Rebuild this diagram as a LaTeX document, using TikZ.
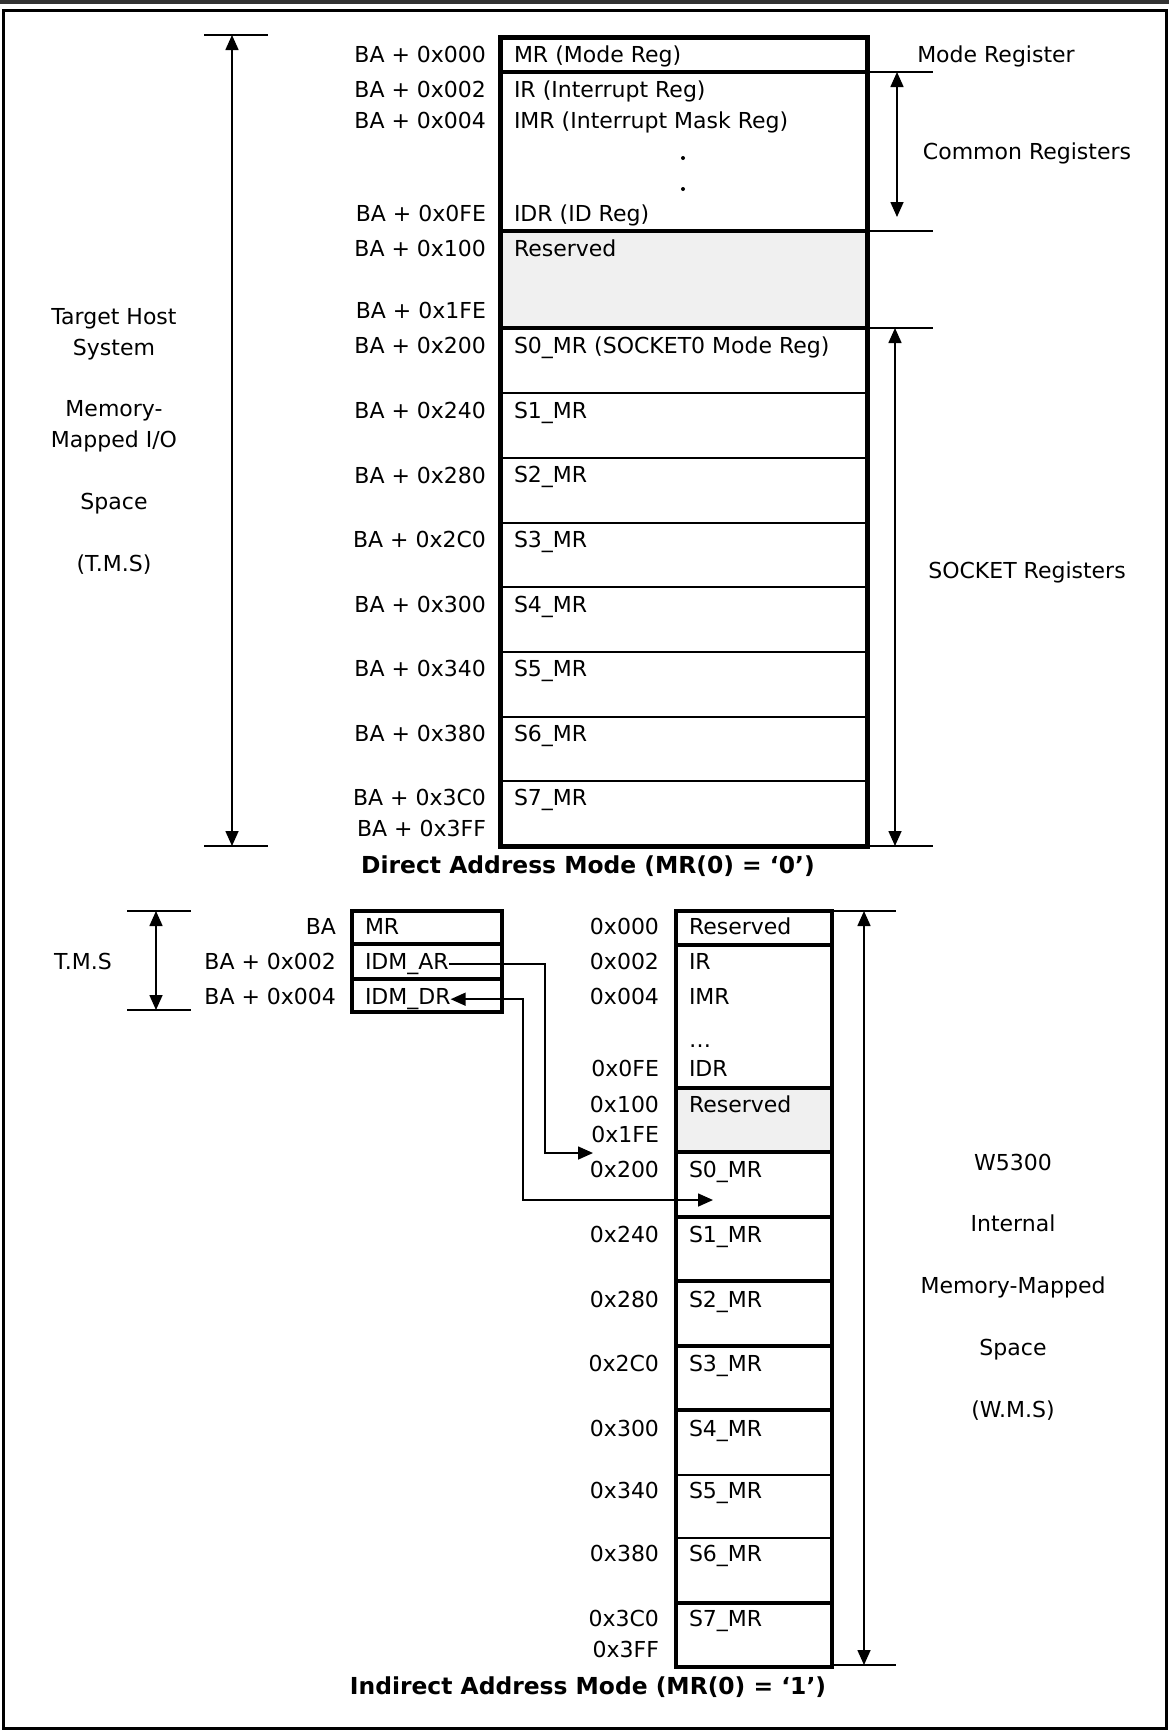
\documentclass[tikz,border=0pt]{standalone}
\usepackage{fontspec}
\setmainfont{DejaVu Sans}
\usepackage{tikz}
\usetikzlibrary{arrows.meta}

\tikzset{
  lbl/.style={inner sep=0pt, outer sep=0pt, yshift=-1.6pt},
  addr/.style={lbl, anchor=mid east},
  reg/.style={lbl, anchor=mid west},
  note/.style={lbl, anchor=mid},
  guide/.style={line width=0.8pt},
  dimline/.style={line width=0.8pt, <->},
  conn/.style={line width=0.8pt},
  resfill/.style={fill=black!6},
  titlefont/.style={font=\fontsize{11.7}{14}\selectfont\bfseries},
}

\begin{document}
\begin{tikzpicture}[x=0.5pt, y=-0.5pt, font=\fontsize{11}{13}\selectfont,
    >={Triangle[length=7.5pt,width=6.5pt]}]
  % 1 unit = 1 px of the sheet, y runs downwards
  \useasboundingbox (0,0) rectangle (1169,1731);
  \draw[black!80, line width=1.75pt] (0,1.75) -- (1169,1.75);
  \draw[line width=1.5pt] (3,10) rectangle (1166,1728);

  % ---------- Direct Address Mode ----------
  \fill[resfill] (500,231) rectangle (867,328);               % reserved block
  \draw[line width=2pt] (500,72) -- (867,72) (500,231) -- (867,231) (500,328) -- (867,328);
  \foreach \y in {393,458,523,587,652,717,781}
    \draw[line width=1.4pt] (500,\y) -- (867,\y);             % socket rows
  \draw[line width=2.5pt] (500,37) rectangle (867,846);

  \foreach \y/\a [count=\i] in {54/0x000,89/0x002,120/0x004,213/0x0FE,248/0x100,310/0x1FE,
      345/0x200,410/0x240,475/0x280,539/0x2C0,604/0x300,668/0x340,733/0x380,797/0x3C0,828/0x3FF}
    \node[addr] (da\i) at (486,\y) {BA + \a};

  \node[reg] (dmr)  at (514,54)  {MR (Mode Reg)};
  \node[reg] (dir)  at (514,89)  {IR (Interrupt Reg)};
  \node[reg] (dimr) at (514,120) {IMR (Interrupt Mask Reg)};
  \fill (683,158) circle (2); \fill (683,189) circle (2);     % dots
  \node[reg] (didr) at (514,213) {IDR (ID Reg)};
  \node[reg] (dres) at (514,248) {Reserved};
  \node[reg] (ds0)  at (514,345) {S0\_MR (SOCKET0 Mode Reg)};
  \foreach \i in {1,...,7}
    \node[reg] (ds\i) at (514,{345+64.6*\i}) {S\i\_MR};

  % right hand side brackets
  \draw[guide] (867,72) -- (933,72) (867,231) -- (933,231)
               (867,328) -- (933,328) (867,846) -- (933,846);
  \draw[dimline] (897,72) -- (897,217);
  \draw[dimline] (895,328) -- (895,846);
  \node[note] (dmode)   at (996,54)   {Mode Register};
  \node[note] (dcommon) at (1027,151) {Common Registers};
  \node[note] (dsocket) at (1027,570) {SOCKET Registers};

  % host space on the left
  \draw[guide] (204,35) -- (268,35) (204,846) -- (268,846);
  \draw[dimline] (232,35) -- (232,846);
  \foreach \y/\t [count=\i] in {316/{Target Host},347/{System},408/{Memory-},
      439/{Mapped I/O},501/{Space},563/{(T.M.S)}}
    \node[note] (dtms\i) at (114,\y) {\t};

  \node[note, titlefont] (dtitle) at (588,865)
    {Direct Address Mode (MR(0) = ‘0’)};

  % ---------- Indirect Address Mode ----------
  \draw[guide] (127,911) -- (191,911) (127,1010) -- (191,1010);
  \draw[dimline] (156,911) -- (156,1010);
  \node[note] (itms) at (83,961) {T.M.S};

  % host registers
  \draw[line width=2pt] (352,944) -- (502,944) (352,979) -- (502,979);
  \draw[line width=2.25pt] (352,911) rectangle (502,1012);
  \node[addr] (ib0) at (336,926) {BA};
  \node[addr] (ib1) at (336,961) {BA + 0x002};
  \node[addr] (ib2) at (336,996) {BA + 0x004};
  \node[reg] (imr)   at (365,926) {MR};
  \node[reg] (idmar) at (365,961) {IDM\_AR};
  \node[reg] (idmdr) at (365,996) {IDM\_DR};

  % W5300 internal space
  \fill[resfill] (676,1088) rectangle (832,1152);
  \foreach \y in {945,1088,1152,1217,1281,1346,1410,1603}
    \draw[line width=1.75pt] (676,\y) -- (832,\y);
  \foreach \y in {1475,1538}
    \draw[line width=0.6pt] (676,\y) -- (832,\y);
  \draw[line width=2pt] (676,911) rectangle (832,1667);

  \foreach \y/\a [count=\i] in {926/0x000,961/0x002,996/0x004,1068/0x0FE,1104/0x100,1134/0x1FE,
      1169/0x200,1234/0x240,1299/0x280,1363/0x2C0,1428/0x300,1490/0x340,1553/0x380,1618/0x3C0,1649/0x3FF}
    \node[addr] (ia\i) at (659,\y) {\a};

  \node[reg] (ires0) at (689,926)  {Reserved};
  \node[reg] (iir)   at (689,961)  {IR};
  \node[reg] (iimr)  at (689,996)  {IMR};
  \node[lbl, anchor=base west] (idots) at (689,1044) {\ldots};
  \node[reg] (iidr)  at (689,1068) {IDR};
  \node[reg] (ires1) at (689,1104) {Reserved};
  \foreach \y [count=\i from 0] in {1169,1234,1299,1363,1428,1490,1553,1618}
    \node[reg] (is\i) at (689,\y) {S\i\_MR};

  % indirect access paths
  \coordinate (ar0)  at (593,1153);
  \coordinate (s0in) at (713,1200);
  \draw[conn, ->]  (idmar.mid east) -| (545,1153) -- (ar0);
  \draw[conn, <->] (idmdr.mid east) -| (523,1200) -- (s0in);

  % right hand side
  \draw[guide] (832,911) -- (896,911) (832,1665) -- (896,1665);
  \draw[dimline] (864,911) -- (864,1665);
  \foreach \y/\t [count=\i] in {1162/{W5300},1223/{Internal},1285/{Memory-Mapped},
      1347/{Space},1409/{(W.M.S)}}
    \node[note] (iwms\i) at (1013,\y) {\t};

  \node[note, titlefont] (ititle) at (588,1686)
    {Indirect Address Mode (MR(0) = ‘1’)};
\end{tikzpicture}
\end{document}
